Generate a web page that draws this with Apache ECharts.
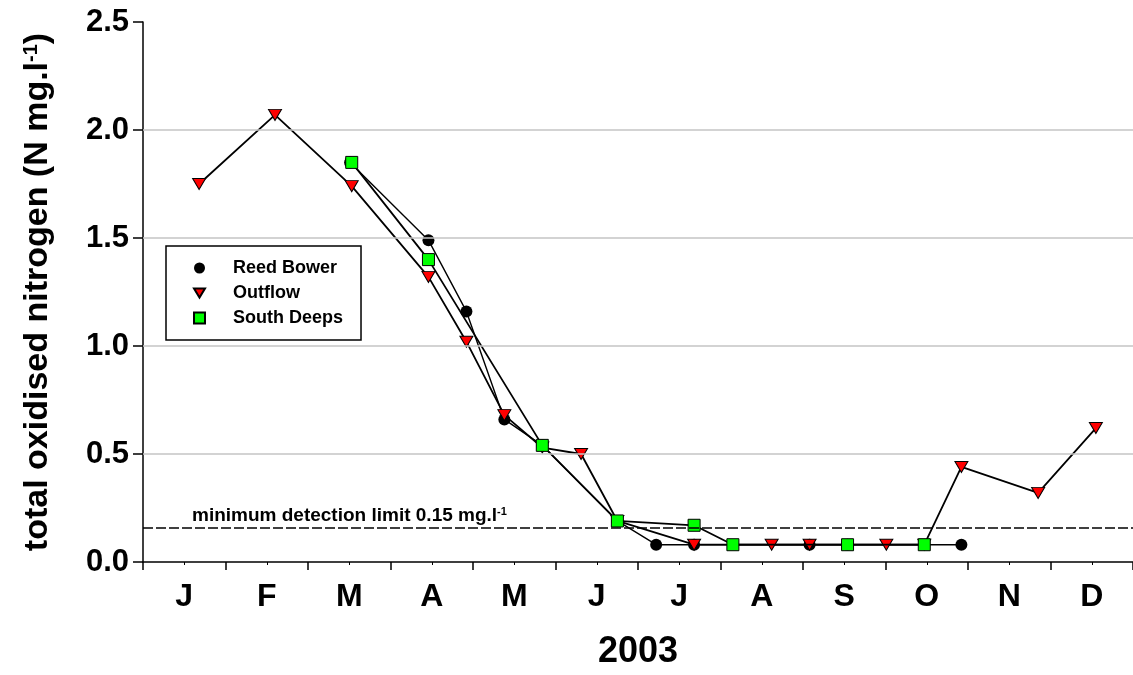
<!DOCTYPE html>
<html>
<head>
<meta charset="utf-8">
<script src="https://cdn.jsdelivr.net/npm/echarts@6/dist/echarts.min.js"></script>
<style>
  html, body { margin: 0; padding: 0; background: #fff; }
  #main { width: 1133px; height: 675px; }
</style>
</head>
<body>
<div id="main"></div>
<script>
// x is month of 2003 as a decimal (0 = 1 Jan, 12 = 31 Dec)
var months = ["J", "F", "M", "A", "M", "J", "J", "A", "S", "O", "N", "D"];
var yTicks = [0.5, 1.0, 1.5, 2.0];
var detectionLimit = 0.157;

// Reed Bower
var reedBower = [
  [2.51, 1.85], [3.46, 1.49], [3.92, 1.16], [4.38, 0.66], [4.84, 0.54],
  [5.75, 0.19], [6.22, 0.08], [6.68, 0.08], [8.08, 0.08], [8.54, 0.08],
  [9.92, 0.08]
];
// Outflow
var outflow = [
  [0.68, 1.75], [1.60, 2.07], [2.53, 1.74], [3.46, 1.32], [3.92, 1.02],
  [4.38, 0.68], [4.84, 0.53], [5.31, 0.50], [5.75, 0.19], [6.68, 0.08],
  [7.62, 0.08], [8.08, 0.08], [9.01, 0.08], [9.47, 0.08], [9.92, 0.44],
  [10.85, 0.32], [11.55, 0.62]
];
// South Deeps
var southDeeps = [
  [2.53, 1.85], [3.46, 1.40], [4.84, 0.54], [5.75, 0.19], [6.68, 0.17],
  [7.15, 0.08], [8.54, 0.08], [9.47, 0.08]
];

var font = "'Liberation Sans', Arial, sans-serif";
var downTriangle = "path://M0,0 L12,0 L6,10 Z";

var myChart = echarts.init(document.getElementById("main"));

var option = {
  animation: false,
  backgroundColor: "#fff",
  grid: { left: 143, right: 0, top: 22, bottom: 110 },
  legend: {
    orient: "vertical",
    left: 166,
    top: 246,
    padding: [12, 18, 12, 27],
    itemGap: 5,
    itemWidth: 11,
    itemHeight: 11,
    borderColor: "#000",
    borderWidth: 1.5,
    textStyle: {
      fontFamily: font, fontWeight: "bold", fontSize: 18, color: "#000",
      lineHeight: 20, padding: [0, 0, 0, 23]
    },
    data: [
      { name: "Reed Bower", icon: "circle" },
      { name: "Outflow", icon: downTriangle },
      { name: "South Deeps", icon: "rect" }
    ]
  },
  xAxis: [
    {
      type: "value",
      min: 0,
      max: 12,
      interval: 1,
      axisLine: { lineStyle: { color: "#000", width: 1.5 } },
      axisTick: { length: 8, lineStyle: { color: "#000", width: 1.5 } },
      minorTick: { show: true, splitNumber: 2, length: 3, lineStyle: { color: "#000", width: 1 } },
      axisLabel: { show: false },
      splitLine: { show: false }
    },
    {
      type: "category",
      data: months,
      position: "bottom",
      boundaryGap: true,
      axisLine: { show: false },
      axisTick: { show: false },
      axisLabel: {
        margin: 19, fontFamily: font, fontWeight: "bold", fontSize: 32, color: "#000"
      },
      name: "2003",
      nameLocation: "middle",
      nameGap: 72,
      nameTextStyle: { fontFamily: font, fontWeight: "bold", fontSize: 36, color: "#000" }
    }
  ],
  yAxis: {
    type: "value",
    min: 0,
    max: 2.5,
    interval: 0.5,
    axisLine: { show: true, lineStyle: { color: "#000", width: 1.5 } },
    axisTick: { show: true, length: 10, lineStyle: { color: "#000", width: 1.5 } },
    axisLabel: {
      margin: 14, fontFamily: font, fontWeight: "bold", fontSize: 31, color: "#000",
      formatter: function (v) { return v.toFixed(1); }
    },
    splitLine: { show: false },
    name: "total oxidised nitrogen (N mg.l{sup|-1})",
    nameLocation: "middle",
    nameGap: 88,
    nameTextStyle: {
      fontFamily: font, fontWeight: "bold", fontSize: 34, color: "#000",
      rich: { sup: { fontFamily: font, fontWeight: "bold", fontSize: 20, verticalAlign: "top", color: "#000" } }
    }
  },
  series: [
    // grid lines and detection limit
    {
      type: "line",
      data: [],
      silent: true,
      z: 1,
      markLine: {
        silent: true,
        symbol: "none",
        animation: false,
        data: yTicks.map(function (v) {
          return { yAxis: v, lineStyle: { color: "#c4c4c4", width: 1.5, type: "solid" }, label: { show: false } };
        }).concat([{
          yAxis: detectionLimit,
          lineStyle: { color: "#000", width: 1.5, type: [10, 3] },
          label: {
            show: true,
            position: "insideStartTop",
            distance: 2,
            padding: [0, 0, 0, 47],
            formatter: "minimum detection limit 0.15 mg.l{sup|-1}",
            fontFamily: font, fontWeight: "bold", fontSize: 19, color: "#000",
            rich: { sup: { fontFamily: font, fontWeight: "bold", fontSize: 11, verticalAlign: "top", color: "#000" } }
          }
        }])
      }
    },
    {
      name: "Reed Bower",
      type: "line",
      data: reedBower,
      symbol: "circle",
      symbolSize: 12,
      showAllSymbol: true,
      itemStyle: { color: "#000" },
      lineStyle: { color: "#000", width: 1.4 },
      z: 2
    },
    {
      name: "Outflow",
      type: "line",
      data: outflow,
      symbol: downTriangle,
      symbolSize: [13, 11],
      showAllSymbol: true,
      itemStyle: { color: "#ff0000", borderColor: "#000", borderWidth: 1 },
      lineStyle: { color: "#000", width: 1.8 },
      z: 3
    },
    {
      name: "South Deeps",
      type: "line",
      data: southDeeps,
      symbol: "rect",
      symbolSize: 12,
      showAllSymbol: true,
      itemStyle: { color: "#00ff00", borderColor: "#000", borderWidth: 1 },
      lineStyle: { color: "#000", width: 1.8 },
      z: 4
    }
  ]
};

myChart.setOption(option);
</script>
</body>
</html>
